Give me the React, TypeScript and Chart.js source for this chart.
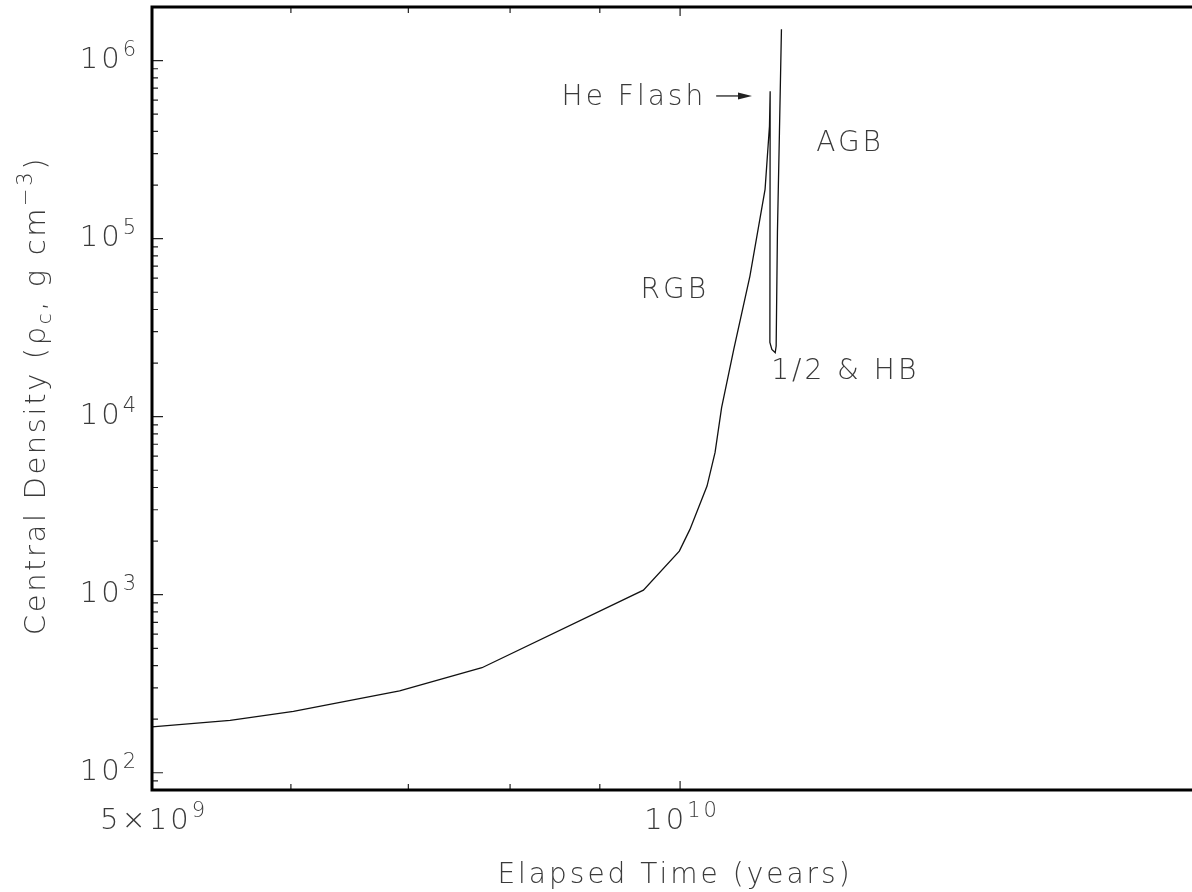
import React, { useEffect, useRef } from "react";
import { Chart, registerables } from "chart.js";

Chart.register(...registerables);

// ---- data ----
const timeYears = [
  5.0e9, 5.54e9, 6.02e9, 6.92e9, 7.71e9, 9.53e9, 9.99e9, 1.013e10, 1.036e10,
  1.047e10, 1.056e10, 1.073e10, 1.096e10, 1.118e10, 1.1245e10, 1.1255e10,
  1.1251e10, 1.128e10, 1.133e10, 1.1344e10, 1.1363e10, 1.1393e10, 1.1423e10,
];
const centralDensity = [
  181, 197, 221, 288, 389, 1061, 1757, 2327, 4075, 6301, 11235, 23880, 61640,
  189200, 429000, 672000, 26150, 23880, 22880, 24920, 108500, 395600, 1.499e6,
];

const xRange = [5e9, 1.958e10];
const yRange = [80, 2e6];

const yMajorTicks = [1e2, 1e3, 1e4, 1e5, 1e6];
const yTickExponents = ["2", "3", "4", "5", "6"];
const xMajorTicks = [1e10];
const xMinorTicks = [6e9, 7e9, 8e9, 9e9];
const xLabelValues = [5e9, 1e10];
const xLabelMantissas = ["5\u00d7", ""];
const xLabelExponents = ["9", "10"];

const annotationTexts = ["RGB", "AGB", "1/2 & HB"];
const annotationX = [9.93e9, 1.25e10, 1.242e10];
const annotationY = [5.1e4, 3.43e5, 1.785e4];

const heFlashText = "He Flash";
const heFlashArrowFrom = [1.0485e10, 6.33e5];
const heFlashArrowTo = [1.099e10, 6.33e5];

const xTitle = "Elapsed Time (years)";

const FONT = '"DejaVu Sans", "Liberation Sans", sans-serif';
const WEIGHT = "200";
const TEXT_COLOR = "#3a3a3a";
const SPACING = "3px";

type Part = { t: string; size: number; dy: number };

function setFont(ctx: CanvasRenderingContext2D, p: Part) {
  ctx.font = `${WEIGHT} ${p.size}px ${FONT}`;
}

function measureParts(ctx: CanvasRenderingContext2D, parts: Part[]) {
  let w = 0;
  for (const p of parts) {
    setFont(ctx, p);
    w += ctx.measureText(p.t).width;
  }
  return w;
}

function drawParts(
  ctx: CanvasRenderingContext2D,
  parts: Part[],
  x: number,
  y: number,
  align: "left" | "center" | "right"
) {
  const total = measureParts(ctx, parts);
  let cx = align === "left" ? x : align === "center" ? x - total / 2 : x - total;
  ctx.textAlign = "left";
  for (const p of parts) {
    setFont(ctx, p);
    ctx.fillText(p.t, cx, y + p.dy);
    cx += ctx.measureText(p.t).width;
  }
}

const decorPlugin = {
  id: "decor",
  afterDraw(chart: any) {
    const { ctx, chartArea } = chart;
    const xs = chart.scales.x;
    const ys = chart.scales.y;
    const { left, right, top, bottom } = chartArea;
    ctx.save();

    // ticks
    ctx.strokeStyle = "#222";
    ctx.lineWidth = 1.2;
    ctx.beginPath();
    const yMin = yRange[0];
    const yMax = yRange[1];
    for (let e = 1; e <= 6; e++) {
      for (let m = 1; m <= 9; m++) {
        const v = m * Math.pow(10, e);
        if (v < yMin || v > yMax) continue;
        const py = ys.getPixelForValue(v);
        const len = m === 1 ? 11 : 6;
        ctx.moveTo(left, py);
        ctx.lineTo(left + len, py);
      }
    }
    for (const v of xMinorTicks) {
      const px = xs.getPixelForValue(v);
      ctx.moveTo(px, bottom);
      ctx.lineTo(px, bottom - 6);
      ctx.moveTo(px, top);
      ctx.lineTo(px, top + 6);
    }
    for (const v of xMajorTicks) {
      const px = xs.getPixelForValue(v);
      ctx.moveTo(px, bottom);
      ctx.lineTo(px, bottom - 9);
      ctx.moveTo(px, top);
      ctx.lineTo(px, top + 9);
    }
    ctx.stroke();

    // frame
    ctx.strokeStyle = "#000";
    ctx.lineWidth = 3;
    ctx.lineCap = "square";
    ctx.beginPath();
    ctx.moveTo(right + 5, top);
    ctx.lineTo(left, top);
    ctx.lineTo(left, bottom);
    ctx.lineTo(right + 5, bottom);
    ctx.stroke();

    // text
    ctx.fillStyle = TEXT_COLOR;
    (ctx as any).letterSpacing = SPACING;
    ctx.textBaseline = "alphabetic";

    // y tick labels
    yMajorTicks.forEach((v, i) => {
      const py = ys.getPixelForValue(v);
      drawParts(
        ctx,
        [
          { t: "10", size: 29, dy: 0 },
          { t: yTickExponents[i], size: 21, dy: -12 },
        ],
        left - 13,
        py + 7,
        "right"
      );
    });

    // x tick labels
    xLabelValues.forEach((v, i) => {
      const px = xs.getPixelForValue(v);
      const parts: Part[] = [];
      if (xLabelMantissas[i]) parts.push({ t: xLabelMantissas[i], size: 29, dy: 0 });
      parts.push({ t: "10", size: 29, dy: 0 });
      parts.push({ t: xLabelExponents[i], size: 21, dy: -12 });
      drawParts(ctx, parts, px + 2, bottom + 39, "center");
    });

    // x title
    drawParts(ctx, [{ t: xTitle, size: 28, dy: 0 }], (left + 1198) / 2, bottom + 93, "center");

    // y title (rotated)
    ctx.save();
    (ctx as any).letterSpacing = "2.6px";
    ctx.translate(45, (top + bottom) / 2 - 3);
    ctx.rotate(-Math.PI / 2);
    drawParts(
      ctx,
      [
        { t: "Central Density (", size: 29, dy: 0 },
        { t: "\u03c1", size: 29, dy: 0 },
        { t: "c", size: 20, dy: 6 },
        { t: ", g cm", size: 29, dy: 0 },
        { t: "\u22123", size: 21, dy: -13 },
        { t: ")", size: 29, dy: 0 },
      ],
      0,
      0,
      "center"
    );
    ctx.restore();

    // annotations
    ctx.textBaseline = "middle";
    annotationTexts.forEach((t, i) => {
      const px = xs.getPixelForValue(annotationX[i]);
      const py = ys.getPixelForValue(annotationY[i]);
      drawParts(ctx, [{ t, size: 28, dy: 0 }], px, py, "center");
    });

    // He Flash arrow
    const ax0 = xs.getPixelForValue(heFlashArrowFrom[0]);
    const ay = ys.getPixelForValue(heFlashArrowFrom[1]);
    const ax1 = xs.getPixelForValue(heFlashArrowTo[0]);
    drawParts(ctx, [{ t: heFlashText, size: 28, dy: 2 }], ax0 - 10, ay, "right");
    ctx.strokeStyle = "#222";
    ctx.fillStyle = "#222";
    ctx.lineWidth = 1.3;
    ctx.lineCap = "butt";
    ctx.beginPath();
    ctx.moveTo(ax0, ay);
    ctx.lineTo(ax1 - 8, ay);
    ctx.stroke();
    ctx.beginPath();
    ctx.moveTo(ax1, ay);
    ctx.lineTo(ax1 - 14, ay - 3.5);
    ctx.lineTo(ax1 - 14, ay + 3.5);
    ctx.closePath();
    ctx.fill();

    ctx.restore();
  },
};

export default function App() {
  const canvasRef = useRef<HTMLCanvasElement | null>(null);

  useEffect(() => {
    if (!canvasRef.current) return;
    const points = timeYears.map((t, i) => ({ x: t, y: centralDensity[i] }));
    const chart = new Chart(canvasRef.current, {
      type: "line",
      data: {
        datasets: [
          {
            data: points,
            borderColor: "#111",
            borderWidth: 1.3,
            pointRadius: 0,
            tension: 0,
            fill: false,
          },
        ],
      },
      options: {
        animation: false,
        responsive: false,
        devicePixelRatio: 1,
        layout: { padding: { left: 152, top: 7, right: 0, bottom: 102 } },
        scales: {
          x: { type: "logarithmic", min: xRange[0], max: xRange[1], display: false },
          y: { type: "logarithmic", min: yRange[0], max: yRange[1], display: false },
        },
        plugins: {
          legend: { display: false },
          tooltip: { enabled: false },
        },
      },
      plugins: [decorPlugin],
    });
    return () => chart.destroy();
  }, []);

  return (
    <div
      style={{
        position: "fixed",
        left: 0,
        top: 0,
        width: 1192,
        height: 892,
        background: "#fff",
      }}
    >
      <canvas ref={canvasRef} width={1192} height={892} />
    </div>
  );
}
